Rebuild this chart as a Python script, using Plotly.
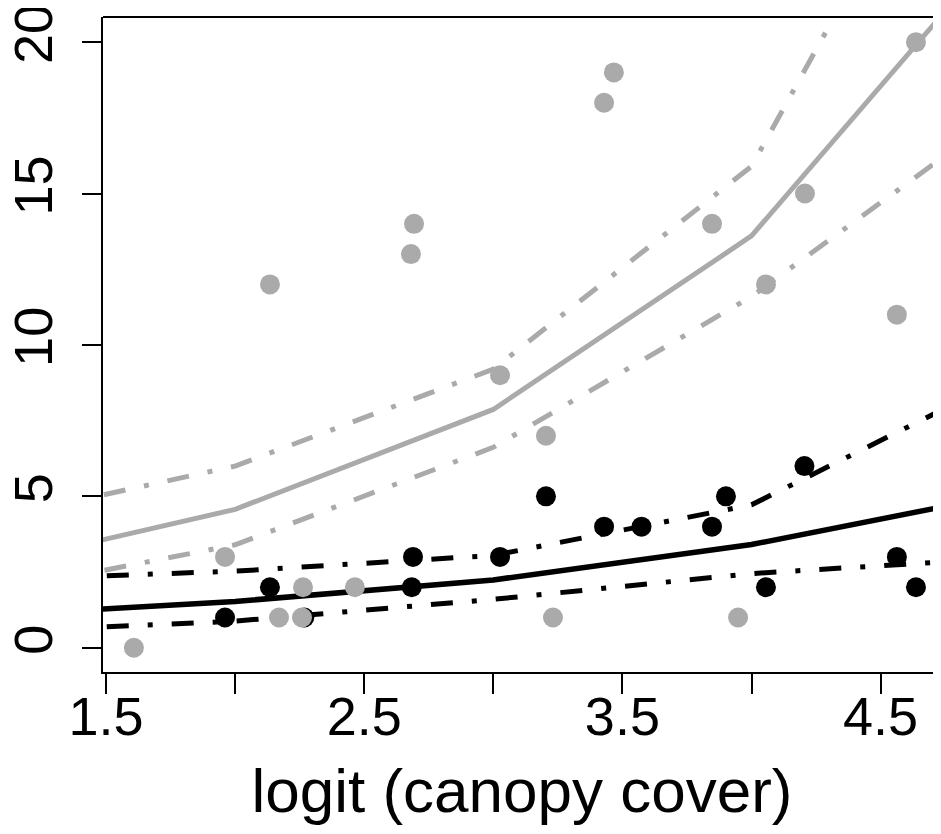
import plotly.graph_objects as go

# ---- data ----
gray_x = [1.608, 1.961, 2.135, 2.170, 2.259, 2.263, 2.464, 2.681, 2.693, 3.026,
          3.204, 3.231, 3.429, 3.467, 3.847, 3.948, 4.056, 4.207, 4.563, 4.637]
gray_y = [0, 3, 12, 1, 1, 2, 2, 13, 14, 9, 7, 1, 18, 19, 14, 1, 12, 15, 11, 20]

black_x = [1.961, 2.135, 2.268, 2.684, 2.689, 3.026, 3.204, 3.429, 3.574,
           3.847, 3.901, 4.056, 4.205, 4.563, 4.637]
black_y = [1, 2, 1, 2, 3, 3, 5, 4, 4, 4, 5, 2, 6, 3, 2]

fit_x = [1, 2, 3, 4, 5]
gray_fit = [2.61, 4.57, 7.87, 13.6, 23.5]
gray_upper = [4.14, 6.0, 9.2, 15.9, 31.3]
gray_lower = [1.74, 3.4, 6.62, 11.6, 17.8]
black_fit = [1.04, 1.53, 2.24, 3.41, 5.09]
black_upper = [2.23, 2.53, 3.05, 4.72, 8.97]
black_lower = [0.50, 0.88, 1.60, 2.45, 2.97]

x_ticks = [1.5, 2, 2.5, 3, 3.5, 4, 4.5]
x_ticktext = ["1.5", "", "2.5", "", "3.5", "", "4.5"]
y_ticks = [0, 5, 10, 15, 20]

GRAY = "#AAAAAA"
BLACK = "#000000"
DASHDOT = "22px,19px,5px,19px"
FONT = "Liberation Sans, Arial, Helvetica, sans-serif"

fig = go.Figure()

def line(y, color, dash, width):
    fig.add_trace(go.Scatter(x=fit_x, y=y, mode="lines",
                             line=dict(color=color, width=width, dash=dash),
                             hoverinfo="skip", showlegend=False))

line(gray_fit, GRAY, "solid", 5)
line(gray_upper, GRAY, DASHDOT, 5)
line(gray_lower, GRAY, DASHDOT, 5)
line(black_fit, BLACK, "solid", 5.5)
line(black_upper, BLACK, DASHDOT, 5)
line(black_lower, BLACK, DASHDOT, 5)

fig.add_trace(go.Scatter(x=black_x, y=black_y, mode="markers",
                         marker=dict(color=BLACK, size=20, line=dict(width=0)),
                         showlegend=False))
fig.add_trace(go.Scatter(x=gray_x, y=gray_y, mode="markers",
                         marker=dict(color=GRAY, size=20, line=dict(width=0)),
                         showlegend=False))

fig.add_shape(type="line", xref="paper", yref="paper", x0=0, x1=1, y0=1, y1=1,
              line=dict(color="black", width=2))

fig.update_layout(
    width=941, height=834,
    margin=dict(l=95, r=8, t=9, b=170),
    plot_bgcolor="white", paper_bgcolor="white",
    font=dict(family=FONT, color="black"),
    xaxis=dict(range=[1.4884, 4.7339], tickvals=x_ticks, ticktext=x_ticktext,
               automargin=False, ticklabeloverflow="allow",
               showgrid=False, zeroline=False, showline=True, linecolor="black",
               linewidth=2, ticks="outside", ticklen=20, tickwidth=2,
               tickcolor="black", tickfont=dict(size=54, family=FONT),
               ticklabelstandoff=-24,
               title=dict(text="logit (canopy cover)",
                          font=dict(size=62, family=FONT), standoff=24)),
    yaxis=dict(range=[-0.80, 20.83], tickvals=y_ticks, automargin=False,
               ticklabeloverflow="allow",
               showgrid=False, zeroline=False, showline=True, linecolor="black",
               linewidth=2, ticks="outside", ticklen=19, tickwidth=2,
               tickcolor="black", tickangle=-90, ticklabelstandoff=8,
               tickfont=dict(size=54, family=FONT)),
)

fig.write_html("out.html")
